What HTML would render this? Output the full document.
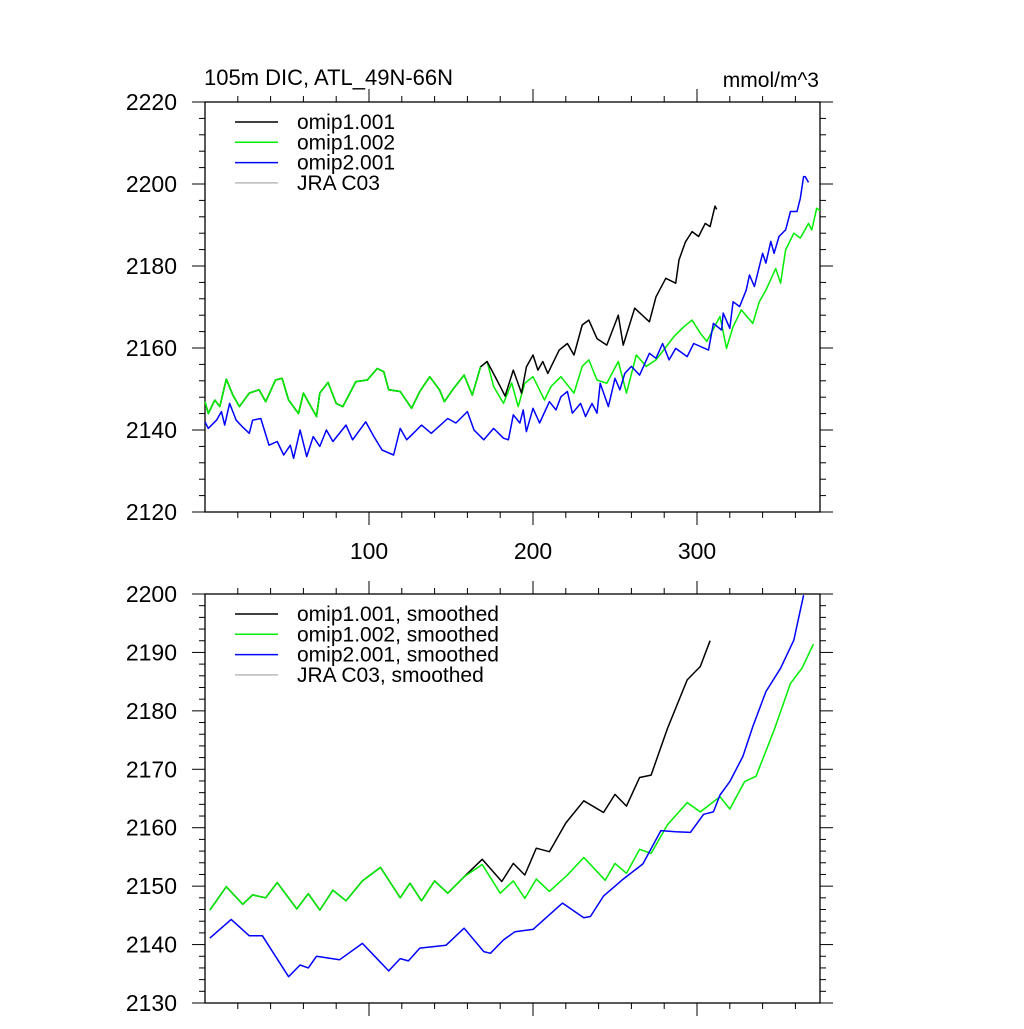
<!DOCTYPE html>
<html><head><meta charset="utf-8"><style>
body{margin:0;background:#fff}
svg text{font-family:"Liberation Sans",sans-serif;fill:#000}
</style></head><body>
<svg id="chart" width="1024" height="1024" xmlns="http://www.w3.org/2000/svg">
<text x="204" y="85" font-size="22">105m DIC, ATL_49N-66N</text>
<text x="819" y="87" font-size="21" text-anchor="end">mmol/m^3</text>
<g id="p1"></g>
<g id="p2"></g>
</svg>
<script>
// ---- Panel 1 (raw) data ----
const g1Years=[0,2,6,9,13,17,21,27,33,37,43,47,51,57,60,68,70,75,80,84,92,99,105,109,112,119,126,131,137,143,146,151,158,163,168,172,176,182,187,191,195,200,207,211,217,225,230,234,239,245,252,257,263,269,275,286,292,297,302,306,314,318,322,327,334,338,342,348,351,354,359,363,368,370,373,375];
const g1Vals=[2146.9,2144,2147.3,2145.7,2152.4,2148.5,2145.7,2149,2149.8,2146.9,2152.2,2152.6,2147.3,2144,2149,2143.3,2149,2151.6,2146.5,2145.7,2151.8,2152.2,2155,2154.2,2149.8,2149.4,2145.3,2149.4,2153,2149.8,2146.9,2149.8,2153.4,2148.5,2155.4,2156.7,2150.6,2146.5,2151.5,2145.7,2151.4,2153,2147.3,2150.6,2153,2149,2155.5,2157.1,2152.2,2151.4,2156.7,2149,2158.3,2155.5,2157.1,2162.8,2165.2,2166.8,2163.6,2161.6,2167.7,2159.9,2165.2,2169.3,2166,2171.3,2174.1,2179.4,2175.8,2183.9,2188,2186.8,2190.4,2188.8,2194.1,2193.5];
const k1Years=[0,2,6,9,13,17,21,27,33,37,43,47,51,57,60,68,70,75,80,84,92,99,105,109,112,119,126,131,137,143,146,151,158,163,168,172,178,183,188,193,196,200,203,206,209,216,221,225,230,234,239,245,252,255,262,271,275,281,287,289,293,297,301,305,308,311,312];
const k1Vals=[2146.9,2144,2147.3,2145.7,2152.4,2148.5,2145.7,2149,2149.8,2146.9,2152.2,2152.6,2147.3,2144,2149,2143.3,2149,2151.6,2146.5,2145.7,2151.8,2152.2,2155,2154.2,2149.8,2149.4,2145.3,2149.4,2153,2149.8,2146.9,2149.8,2153.4,2148.5,2155.4,2156.7,2152.2,2148.3,2154.6,2149,2155.4,2158.3,2154.6,2156.7,2153.8,2159.5,2161.1,2158.3,2165.6,2166.8,2162.3,2160.7,2168,2160.7,2169.7,2166.4,2172.5,2177,2175.8,2181.5,2185.9,2188.4,2187.2,2190.4,2189.6,2194.6,2193.8];
const b1Years=[0,2,7,10,12,15,19,23,27,29,34,39,44,48,52,54,58,62,66,70,74,78,86,90,98,103,108,115,119,123,127,132,138,148,153,160,164,170,176,182,185,188,192,194,196,200,204,210,214,217,221,224,229,232,236,239,241,246,250,253,256,260,265,271,275,279,283,287,294,298,307,310,315,316,320,322,326,330,332,335,340,342,345,347,350,354,357,361,363,365,366,368];
const b1Vals=[2142,2140.4,2142.4,2144.5,2141.2,2146.5,2142.4,2140.7,2139.2,2142.4,2142.8,2136.3,2137.2,2133.9,2136.3,2133.1,2140,2133.5,2138.4,2136,2140,2137.2,2141.2,2137.6,2142,2138.4,2135.1,2133.9,2140.4,2137.6,2139.2,2141.2,2139.2,2142.8,2141.7,2144.5,2140,2137.6,2140.4,2138,2137.6,2143.7,2141.7,2144.9,2139.6,2145.3,2141.7,2146.9,2144.9,2148.1,2149.4,2144.1,2146.5,2143.3,2146.5,2144.1,2151.4,2145.7,2152.6,2149.8,2153.8,2155.5,2153.4,2158.7,2157.5,2161.1,2157.1,2159.9,2157.9,2161.1,2159.5,2166,2164.4,2168.5,2164.8,2171.3,2170.1,2174.1,2177.8,2175,2183.1,2180.7,2186,2183.1,2187.2,2188.8,2193.3,2193.3,2196.5,2201.8,2201.8,2200.4];
// ---- Panel 2 (smoothed) data ----
const g2Years=[3,13,23,29,37,44,56,63,70,78,86,96,107,119,125,132,140,148,158,169,180,188,195,202,210,221,231,244,250,257,265,272,282,294,302,314,320,329,336,347,357,364,371];
const g2Vals=[2145.9,2149.9,2146.9,2148.5,2148,2150.6,2146.1,2148.7,2145.9,2149.3,2147.5,2150.9,2153.2,2148,2150.5,2147.5,2150.9,2148.8,2151.6,2153.7,2148.8,2150.9,2147.9,2151.2,2149.1,2151.9,2154.9,2151,2153.9,2152.2,2156.3,2155.6,2160.5,2164.3,2162.7,2165.3,2163.2,2167.9,2168.8,2176.7,2184.7,2187.3,2191.4];
const k2Years=[3,13,23,29,37,44,56,63,70,78,86,96,107,119,125,132,140,148,158,169,181,188,195,202,210,220,231,243,250,257,265,272,282,294,302,308];
const k2Vals=[2145.9,2149.9,2146.9,2148.5,2148,2150.6,2146.1,2148.7,2145.9,2149.3,2147.5,2150.9,2153.2,2148,2150.5,2147.5,2150.9,2148.8,2151.6,2154.6,2150.8,2153.9,2151.9,2156.5,2155.9,2160.8,2164.6,2162.6,2165.7,2163.7,2168.6,2169,2177,2185.3,2187.6,2192];
const b2Years=[3,16,27,35,51,58,63,68,82,96,112,119,124,131,147,158,170,174,182,189,197,200,218,231,235,243,255,267,278,287,296,304,310,314,320,328,334,342,351,359,365];
const b2Vals=[2141.1,2144.3,2141.5,2141.5,2134.5,2136.5,2136,2138,2137.4,2140.2,2135.5,2137.6,2137.2,2139.4,2139.9,2142.8,2138.8,2138.5,2140.8,2142.2,2142.5,2142.6,2147.1,2144.6,2144.8,2148.3,2151.2,2153.8,2159.5,2159.3,2159.2,2162.3,2162.7,2165.6,2167.9,2172.2,2177.3,2183.3,2187.3,2192.1,2199.8];
const yTicks1=[2120,2140,2160,2180,2200,2220];
const yTicks2=[2130,2140,2150,2160,2170,2180,2190,2200];
const xTickLabels=[100,200,300];

const NS="http://www.w3.org/2000/svg";
function mk(parent,tag,attrs){const e=document.createElementNS(NS,tag);for(const k in attrs)e.setAttribute(k,attrs[k]);parent.appendChild(e);return e;}

function panel(gid,top,bottom,ymin,ymax,yMajor,yMinor,yTicks,showX,series,legend){
  const g=document.getElementById(gid);
  const L=205,R=820,xmax=375;
  const X=v=>L+(v)*(R-L)/xmax;
  const Y=v=>bottom-(v-ymin)*(bottom-top)/(ymax-ymin);
  const fr=mk(g,'rect',{x:L,y:top,width:R-L,height:bottom-top,fill:'none',stroke:'#000','stroke-width':1.3});
  
  
  for(let v=20;v<=xmax;v+=20){
    const maj=v%100===0, len=maj?13:6, x=X(v);
    const t1=mk(g,'line',{x1:x,x2:x,y1:top,y2:top-len,stroke:'#000','stroke-width':1});
    
    
    const t2=mk(g,'line',{x1:x,x2:x,y1:bottom,y2:bottom+len,stroke:'#000','stroke-width':1});
    
    
  }
  if(showX){
    xTickLabels.forEach(v=>{
      const t=mk(g,'text',{x:X(v),y:bottom+47,'font-size':23,'text-anchor':'middle'});
      t.textContent=v;
      
      
    });
  }
  for(let v=ymin;v<=ymax+1e-6;v+=yMinor){
    const maj=Math.abs((v-ymin)%yMajor)<1e-6, len=maj?13:6, y=Y(v);
    const a=mk(g,'line',{x1:L,x2:L-len,y1:y,y2:y,stroke:'#000','stroke-width':1});
    
    
    const b=mk(g,'line',{x1:R,x2:R+len,y1:y,y2:y,stroke:'#000','stroke-width':1});
    
    
  }
  yTicks.forEach(v=>{
    const t=mk(g,'text',{x:177,y:Y(v)+8,'font-size':23,'text-anchor':'end'});
    t.textContent=v;
    
    
  });
  series.forEach(s=>{
    const d=s.xs.map((x,i)=>(i?'L':'M')+X(x).toFixed(1)+' '+Y(s.ys[i]).toFixed(1)).join(' ');
    const p=mk(g,'path',{d:d,fill:'none',stroke:s.c,'stroke-width':1.5,'stroke-linejoin':'round'});
    
    
  });
  legend.forEach((l,i)=>{
    const y=top+20+i*20.3;
    const ln=mk(g,'line',{x1:235,x2:278,y1:y,y2:y,stroke:l.c,'stroke-width':1.5});
    
    
    const t=mk(g,'text',{x:297,y:y+7,'font-size':21});
    t.textContent=l.t;
    
    
  });
}
panel('p1',102,512,2120,2220,20,4,yTicks1,true,[
  {xs:g1Years,ys:g1Vals,c:'#00ee00',n:'series-omip1-002'},
  {xs:k1Years,ys:k1Vals,c:'#000',n:'series-omip1-001'},
  {xs:b1Years,ys:b1Vals,c:'#0000ff',n:'series-omip2-001'},
  {xs:g1Years.filter(y=>y<=170),ys:g1Vals.slice(0,g1Years.filter(y=>y<=170).length),c:'#00ee00',n:'series-omip1-002-overlay'}
],[{t:'omip1.001',c:'#000'},{t:'omip1.002',c:'#00ee00'},{t:'omip2.001',c:'#0000ff'},{t:'JRA C03',c:'#bbb'}]);
panel('p2',594,1003,2130,2200,10,2,yTicks2,false,[
  {xs:k2Years,ys:k2Vals,c:'#000',n:'series-omip1-001-smoothed'},
  {xs:g2Years,ys:g2Vals,c:'#00ee00',n:'series-omip1-002-smoothed'},
  {xs:b2Years,ys:b2Vals,c:'#0000ff',n:'series-omip2-001-smoothed'}
],[{t:'omip1.001, smoothed',c:'#000'},{t:'omip1.002, smoothed',c:'#00ee00'},{t:'omip2.001, smoothed',c:'#0000ff'},{t:'JRA C03, smoothed',c:'#bbb'}]);
</script>
</body></html>
